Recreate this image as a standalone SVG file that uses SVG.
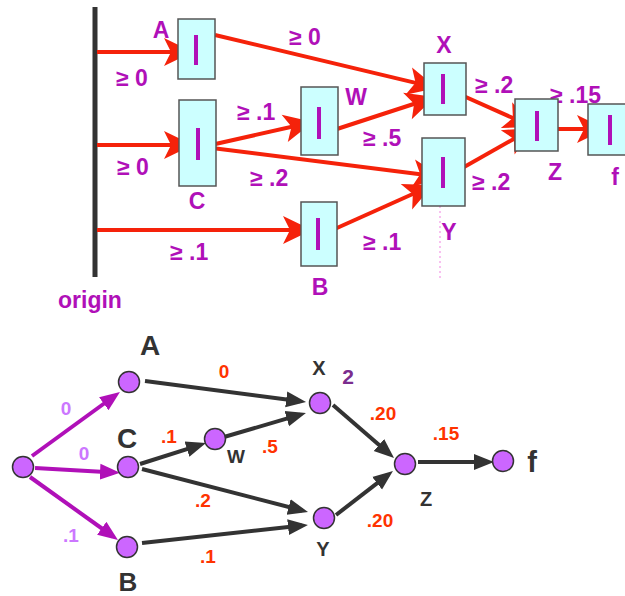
<svg xmlns="http://www.w3.org/2000/svg" width="625" height="596" viewBox="0 0 625 596">
<style>
text{font-family:"Liberation Sans",Arial,sans-serif;font-weight:bold}
.box{fill:#ccffff;stroke:#555;stroke-width:1.5}
.bar{stroke:#b010b8;stroke-width:4}
.tl{fill:#b010b8;font-size:23px}
.red{stroke:#f5220a;stroke-width:4;fill:none;marker-end:url(#ra)}
.dk{stroke:#333;stroke-width:4;fill:none;marker-end:url(#da)}
.pu{stroke:#b010b8;stroke-width:4;fill:none;marker-end:url(#pa)}
.nd{fill:#cc66ff;stroke:#333;stroke-width:1.5}
.bl{fill:#333}
.w{fill:#ff3300;font-size:19px}
.lw{fill:#cc77ff;font-size:19px}
</style>
<defs>
<marker id="ra" markerUnits="userSpaceOnUse" markerWidth="32" markerHeight="30" viewBox="0 0 32 30" refX="22" refY="15" orient="auto"><path d="M30,15 L1,1 L8,15 L1,29 Z" fill="#f5220a"/></marker>
<marker id="da" markerUnits="userSpaceOnUse" markerWidth="22" markerHeight="18" viewBox="0 0 22 18" refX="14" refY="9" orient="auto"><path d="M20,9 L0,1 L0,17 Z" fill="#333"/></marker>
<marker id="pa" markerUnits="userSpaceOnUse" markerWidth="22" markerHeight="18" viewBox="0 0 22 18" refX="14" refY="9" orient="auto"><path d="M20,9 L0,1 L0,17 Z" fill="#b010b8"/></marker>
</defs>

<!-- top diagram -->
<g id="origin">
<line x1="95" y1="7" x2="95" y2="277" stroke="#333" stroke-width="5"/>
<text class="tl" x="58" y="308">origin</text>
</g>
<line x1="440" y1="206" x2="440" y2="280" stroke="#f8c0f0" stroke-width="2" stroke-dasharray="2,3"/>
<g id="connectors-top">
<path class="red" d="M97,52 L185,52"/>
<path class="red" d="M97,145 L185,145"/>
<path class="red" d="M97,230 L304,230"/>
<path class="red" d="M215,35 L429.2,86.1"/>
<path class="red" d="M202,147 L305.2,123.8"/>
<path class="red" d="M212,148 L434.1,176"/>
<path class="red" d="M337,129 L427.4,99.5"/>
<path class="red" d="M328,232 L425.6,188.2"/>
<path class="red" d="M450,90 L525.7,123.7"/>
<path class="red" d="M450,175 L526,132"/>
<path class="red" d="M544,129 L598,129"/>
<text class="tl" x="289" y="45">≥ 0</text>
<text class="tl" x="116" y="86">≥ 0</text>
<text class="tl" x="117" y="175">≥ 0</text>
<text class="tl" x="237" y="120">≥ .1</text>
<text class="tl" x="250" y="186">≥ .2</text>
<text class="tl" x="363" y="146">≥ .5</text>
<text class="tl" x="475" y="93">≥ .2</text>
<text class="tl" x="550" y="103">≥ .15</text>
<text class="tl" x="472" y="190">≥ .2</text>
<text class="tl" x="363" y="250">≥ .1</text>
<text class="tl" x="170" y="260">≥ .1</text>
</g>
<g id="boxA"><rect class="box" x="178" y="19" width="37" height="60"/><line class="bar" x1="196" y1="35" x2="196" y2="65"/><text class="tl" x="161" y="38" text-anchor="middle">A</text></g>
<g id="boxC"><rect class="box" x="179" y="100" width="37" height="86"/><line class="bar" x1="198" y1="128" x2="198" y2="160"/><text class="tl" x="197" y="209" text-anchor="middle">C</text></g>
<g id="boxW"><rect class="box" x="301" y="87" width="37" height="68"/><line class="bar" x1="319" y1="107" x2="319" y2="139"/><text class="tl" x="356" y="105" text-anchor="middle">W</text></g>
<g id="boxB"><rect class="box" x="301" y="202" width="36" height="64"/><line class="bar" x1="318" y1="218" x2="318" y2="250"/><text class="tl" x="320" y="295" text-anchor="middle">B</text></g>
<g id="boxX"><rect class="box" x="424" y="63" width="42" height="52"/><line class="bar" x1="443" y1="74" x2="443" y2="104"/><text class="tl" x="444" y="53" text-anchor="middle">X</text></g>
<g id="boxY"><rect class="box" x="422" y="138" width="43" height="68"/><line class="bar" x1="443" y1="157" x2="443" y2="188"/><text class="tl" x="449" y="240" text-anchor="middle">Y</text></g>
<g id="boxZ"><rect class="box" x="515" y="99" width="43" height="52"/><line class="bar" x1="537" y1="111" x2="537" y2="141"/><text class="tl" x="555" y="180" text-anchor="middle">Z</text></g>
<g id="boxf"><rect class="box" x="588" y="104" width="42" height="51"/><line class="bar" x1="610" y1="115" x2="610" y2="145"/><text class="tl" x="615" y="185" text-anchor="middle">f</text></g>

<!-- bottom diagram -->
<g id="connectors-bottom">
<path class="pu" d="M32,456 L115.1,395.5"/>
<path class="pu" d="M35,468 L114,472.4"/>
<path class="pu" d="M30,477 L113.1,536.5"/>
<path class="dk" d="M145,381 L300.1,401.2"/>
<path class="dk" d="M140,464 L200.3,444.8"/>
<path class="dk" d="M224,437 L300.2,414.7"/>
<path class="dk" d="M142,469 L302.2,510.5"/>
<path class="dk" d="M142,543 L302,525.6"/>
<path class="dk" d="M333,405 L389.5,454.1"/>
<path class="dk" d="M336,515 L388.2,474.7"/>
<path class="dk" d="M418,462 L488,462"/>
<text class="lw" x="66" y="415" text-anchor="middle">0</text>
<text class="lw" x="84" y="460" text-anchor="middle">0</text>
<text class="lw" x="71" y="542" text-anchor="middle">.1</text>
<text class="w" x="224" y="378" text-anchor="middle">0</text>
<text class="w" x="169" y="443" text-anchor="middle">.1</text>
<text class="w" x="270" y="453" text-anchor="middle">.5</text>
<text class="w" x="203" y="507" text-anchor="middle">.2</text>
<text class="w" x="208" y="563" text-anchor="middle">.1</text>
<text class="w" x="383" y="420" text-anchor="middle">.20</text>
<text class="w" x="446" y="440" text-anchor="middle">.15</text>
<text class="w" x="380" y="527" text-anchor="middle">.20</text>
</g>
<g id="n-origin"><circle class="nd" cx="23" cy="467" r="10.5"/></g>
<g id="n-A"><circle class="nd" cx="129" cy="382" r="10.5"/><text class="bl" x="150" y="355" font-size="28" text-anchor="middle">A</text></g>
<g id="n-C"><circle class="nd" cx="128" cy="467" r="10.5"/><text class="bl" x="127" y="448" font-size="28" text-anchor="middle">C</text></g>
<g id="n-B"><circle class="nd" cx="127" cy="547" r="10.5"/><text class="bl" x="128" y="591" font-size="26" text-anchor="middle">B</text></g>
<g id="n-W"><circle class="nd" cx="215" cy="439" r="10.5"/><text class="bl" x="236" y="463" font-size="19" text-anchor="middle">W</text></g>
<g id="n-X"><circle class="nd" cx="320" cy="403" r="10.5"/><text class="bl" x="319" y="375" font-size="20" text-anchor="middle">X</text><text x="348" y="384" font-size="21" fill="#7b2d8e" text-anchor="middle">2</text></g>
<g id="n-Y"><circle class="nd" cx="324" cy="518" r="10.5"/><text class="bl" x="323" y="556" font-size="20" text-anchor="middle">Y</text></g>
<g id="n-Z"><circle class="nd" cx="405" cy="464" r="10.5"/><text class="bl" x="426" y="506" font-size="20" text-anchor="middle">Z</text></g>
<g id="n-f"><circle class="nd" cx="503" cy="461" r="10.5"/><text class="bl" x="532" y="472" font-size="29" text-anchor="middle">f</text></g>
</svg>
